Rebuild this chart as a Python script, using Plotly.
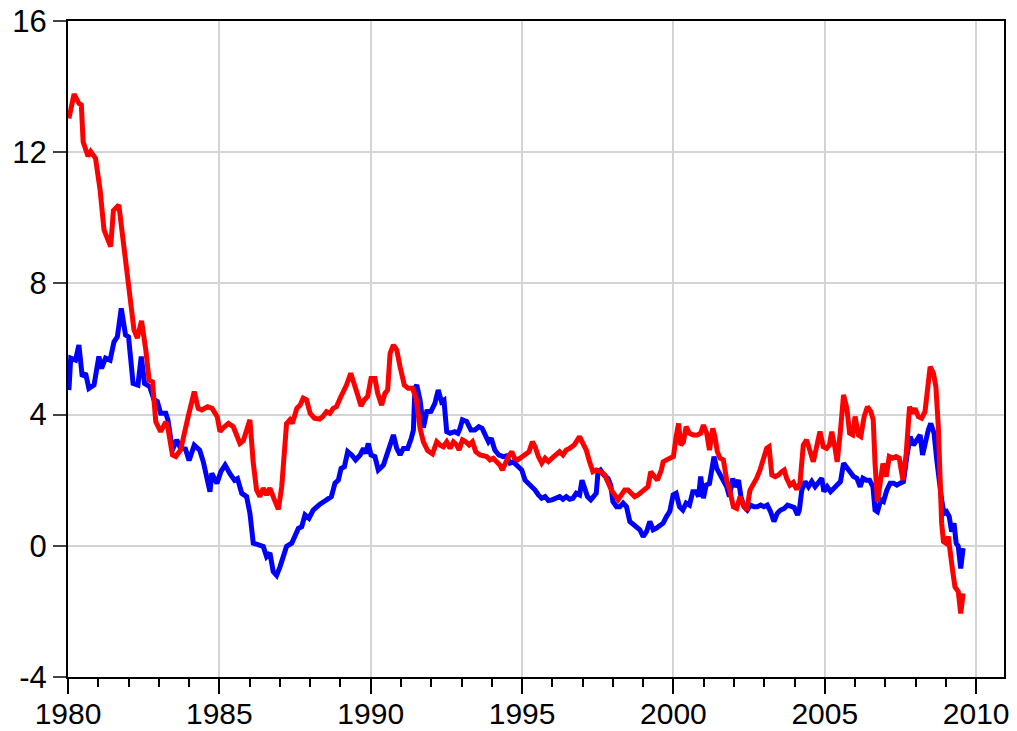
import plotly.graph_objects as go

# Time in years since 1980 and values
red_t = [0.03, 0.2, 0.36, 0.44, 0.5, 0.66, 0.75, 0.91, 1.06, 1.19, 1.41, 1.5, 1.68, 1.85, 2.02, 2.18, 2.29, 2.43,
         2.57, 2.68, 2.79, 2.9, 3.06, 3.23, 3.3, 3.45, 3.56, 3.72, 3.96, 4.17, 4.3, 4.42, 4.61, 4.76, 4.93, 5.02,
         5.13, 5.3, 5.46, 5.68, 5.79, 6.01, 6.12, 6.23, 6.34, 6.45, 6.56, 6.67, 6.82, 6.95, 7.06, 7.22, 7.33, 7.41,
         7.56, 7.67, 7.77, 7.88, 8.0, 8.14, 8.31, 8.42, 8.54, 8.65, 8.76, 8.87, 8.99, 9.1, 9.2, 9.34, 9.46, 9.57,
         9.68, 9.79, 9.9, 10.01, 10.14, 10.23, 10.36, 10.47, 10.56, 10.64, 10.75, 10.86, 10.97, 11.11, 11.24, 11.38,
         11.5, 11.63, 11.74, 11.88, 12.04, 12.18, 12.29, 12.4, 12.51, 12.62, 12.73, 12.84, 12.92, 13.03, 13.14,
         13.25, 13.36, 13.47, 13.61, 13.72, 13.83, 13.94, 14.05, 14.16, 14.27, 14.35, 14.44, 14.55, 14.66, 14.75,
         14.86, 14.99, 15.12, 15.23, 15.34, 15.43, 15.54, 15.65, 15.76, 15.87, 15.99, 16.1, 16.24, 16.35, 16.46,
         16.57, 16.72, 16.83, 16.9, 17.01, 17.12, 17.23, 17.34, 17.45, 17.59, 17.73, 17.84, 17.95, 18.06, 18.17,
         18.28, 18.39, 18.5, 18.61, 18.72, 18.83, 18.94, 19.05, 19.16, 19.25, 19.36, 19.47, 19.6, 19.66, 19.77,
         19.88, 20.0, 20.09, 20.17, 20.24, 20.33, 20.42, 20.53, 20.66, 20.79, 20.9, 20.99, 21.1, 21.19, 21.3,
         21.37, 21.45, 21.54, 21.65, 21.76, 21.87, 21.98, 22.09, 22.2, 22.31, 22.42, 22.53, 22.64, 22.75, 22.86,
         22.97, 23.08, 23.16, 23.25, 23.36, 23.47, 23.58, 23.66, 23.74, 23.85, 23.96, 24.07, 24.18, 24.29, 24.4,
         24.5, 24.62, 24.73, 24.84, 24.95, 25.06, 25.15, 25.23, 25.34, 25.41, 25.51, 25.62, 25.73, 25.82, 25.92,
         26.0, 26.11, 26.19, 26.3, 26.41, 26.52, 26.6, 26.66, 26.74, 26.83, 26.92, 27.03, 27.13, 27.24, 27.35,
         27.46, 27.58, 27.69, 27.8, 27.9, 27.98, 28.09, 28.2, 28.31, 28.39, 28.48, 28.59, 28.67, 28.75, 28.81,
         28.86, 28.92, 29.0, 29.08, 29.14, 29.22, 29.3, 29.41, 29.49, 29.57]
red_v = [13.03, 13.77, 13.49, 13.44, 12.32, 11.88, 12.02, 11.81, 10.85, 9.63, 9.12, 10.22, 10.39, 9.12, 8.05, 6.58,
         6.33, 6.86, 5.97, 5.05, 5.0, 3.78, 3.48, 3.78, 3.6, 2.77, 2.72, 2.92, 3.9, 4.7, 4.19, 4.14, 4.24, 4.19,
         3.94, 3.48, 3.6, 3.73, 3.63, 3.12, 3.2, 3.84, 2.52, 1.7, 1.5, 1.76, 1.55, 1.76, 1.4, 1.11, 1.8, 3.73, 3.84,
         3.73, 4.19, 4.29, 4.5, 4.45, 4.04, 3.89, 3.86, 3.94, 4.09, 4.04, 4.19, 4.24, 4.5, 4.7, 4.9, 5.26, 4.95,
         4.6, 4.26, 4.45, 4.55, 5.1, 5.1, 4.65, 4.29, 4.65, 4.75, 5.87, 6.12, 5.97, 5.46, 4.9, 4.8, 4.8, 4.5, 3.58,
         3.17, 2.9, 2.8, 3.17, 3.07, 3.02, 3.17, 2.97, 3.17, 3.07, 2.92, 3.23, 3.17, 3.07, 3.17, 2.87, 2.77, 2.74,
         2.72, 2.62, 2.67, 2.56, 2.46, 2.31, 2.51, 2.72, 2.87, 2.67, 2.62, 2.72, 2.82, 2.87, 3.17, 3.02, 2.72, 2.52,
         2.67, 2.57, 2.67, 2.77, 2.87, 2.77, 2.92, 2.97, 3.07, 3.23, 3.33, 3.12, 2.92, 2.56, 2.26, 2.31, 2.26, 2.16,
         1.9, 1.7, 1.55, 1.4, 1.55, 1.7, 1.7, 1.6, 1.5, 1.55, 1.62, 1.7, 1.8, 2.26, 2.11, 2.0, 2.31, 2.56, 2.62,
         2.67, 2.72, 3.33, 3.73, 3.07, 3.17, 3.63, 3.43, 3.38, 3.38, 3.43, 3.68, 3.43, 2.92, 3.58, 3.33, 2.87, 2.67,
         2.62, 2.0, 1.65, 1.19, 1.14, 1.5, 1.24, 1.09, 1.7, 1.85, 2.06, 2.31, 2.62, 2.97, 3.02, 2.16, 2.11, 2.16,
         2.26, 2.31, 2.06, 1.85, 1.93, 1.72, 1.9, 3.07, 3.23, 2.92, 2.56, 3.02, 3.48, 3.02, 2.97, 3.07, 3.48, 2.97,
         2.56, 3.43, 4.6, 4.19, 3.43, 3.38, 3.94, 3.38, 3.33, 3.94, 4.24, 4.09, 3.84, 2.51, 1.35, 1.91, 2.51, 2.11,
         2.72, 2.67, 2.72, 2.67, 2.0, 2.82, 4.24, 4.04, 4.19, 3.94, 3.89, 4.09, 4.85, 5.46, 5.26, 4.85, 3.63, 1.91,
         0.69, 0.13, 0.08, 0.28, -0.33, -0.74, -1.25, -1.4, -2.06, -1.45]

blue_t = [0.03, 0.09, 0.25, 0.36, 0.47, 0.58, 0.69, 0.86, 1.02, 1.11, 1.24, 1.39, 1.52, 1.63, 1.76, 1.9, 2.0, 2.15,
          2.31, 2.42, 2.53, 2.7, 2.84, 2.95, 3.06, 3.23, 3.3, 3.45, 3.59, 3.72, 3.88, 4.0, 4.17, 4.35, 4.47, 4.58,
          4.69, 4.75, 4.86, 4.92, 5.05, 5.19, 5.35, 5.5, 5.6, 5.74, 5.9, 6.01, 6.12, 6.28, 6.45, 6.56, 6.67, 6.78,
          6.89, 7.0, 7.11, 7.22, 7.39, 7.5, 7.61, 7.72, 7.83, 7.96, 8.1, 8.3, 8.54, 8.7, 8.82, 8.93, 9.02, 9.13,
          9.24, 9.37, 9.5, 9.65, 9.76, 9.84, 9.92, 10.01, 10.14, 10.25, 10.42, 10.56, 10.67, 10.75, 10.86, 10.97,
          11.08, 11.22, 11.34, 11.41, 11.46, 11.52, 11.63, 11.74, 11.85, 11.99, 12.12, 12.23, 12.34, 12.42, 12.51,
          12.62, 12.77, 12.88, 12.95, 13.03, 13.17, 13.31, 13.44, 13.57, 13.68, 13.8, 13.89, 13.98, 14.1, 14.23,
          14.37, 14.48, 14.6, 14.71, 14.87, 14.99, 15.1, 15.21, 15.32, 15.43, 15.54, 15.65, 15.76, 15.87, 15.99,
          16.13, 16.24, 16.35, 16.46, 16.57, 16.68, 16.79, 16.9, 16.98, 17.07, 17.16, 17.27, 17.38, 17.45, 17.51,
          17.59, 17.7, 17.84, 17.93, 18.0, 18.12, 18.23, 18.34, 18.45, 18.56, 18.67, 18.78, 18.89, 19.0, 19.11,
          19.22, 19.33, 19.44, 19.55, 19.66, 19.77, 19.88, 19.99, 20.09, 20.2, 20.31, 20.42, 20.53, 20.64, 20.75,
          20.83, 20.9, 20.99, 21.08, 21.19, 21.27, 21.34, 21.43, 21.54, 21.65, 21.76, 21.85, 21.96, 22.04, 22.15,
          22.23, 22.33, 22.44, 22.55, 22.66, 22.77, 22.88, 22.99, 23.1, 23.21, 23.32, 23.43, 23.54, 23.66, 23.77,
          23.88, 23.99, 24.1, 24.16, 24.24, 24.35, 24.46, 24.57, 24.68, 24.79, 24.9, 24.97, 25.08, 25.19, 25.3,
          25.41, 25.52, 25.62, 25.73, 25.84, 25.95, 26.06, 26.17, 26.26, 26.37, 26.48, 26.59, 26.66, 26.74, 26.85,
          26.94, 27.05, 27.16, 27.27, 27.38, 27.49, 27.6, 27.71, 27.82, 27.93, 28.04, 28.15, 28.23, 28.31, 28.42,
          28.5, 28.61, 28.7, 28.78, 28.86, 28.94, 29.02, 29.11, 29.19, 29.27, 29.34, 29.41, 29.49, 29.57]
blue_v = [4.75, 5.72, 5.66, 6.12, 5.16, 5.26, 4.8, 4.9, 5.77, 5.41, 5.72, 5.66, 6.22, 6.37, 7.24, 6.43, 6.37, 4.95,
          4.9, 5.77, 4.95, 4.85, 4.45, 4.4, 4.04, 4.04, 3.84, 2.92, 3.23, 2.97, 2.95, 2.6, 3.07, 2.92, 2.56, 2.0,
          1.65, 2.21, 2.0, 1.9, 2.26, 2.46, 2.2, 2.0, 2.05, 1.6, 1.5, 0.99, 0.08, 0.03, -0.02, -0.33, -0.22, -0.79,
          -0.9, -0.65, -0.33, -0.02, 0.08, 0.28, 0.53, 0.58, 0.94, 0.84, 1.09, 1.25, 1.4, 1.5, 1.91, 2.0, 2.36, 2.41,
          2.87, 2.77, 2.62, 2.77, 2.97, 2.82, 3.12, 2.77, 2.72, 2.31, 2.46, 2.82, 3.12, 3.38, 2.97, 2.77, 2.97, 2.97,
          3.28, 3.53, 4.8, 4.9, 4.44, 3.6, 4.09, 4.1, 4.34, 4.75, 4.39, 4.44, 3.48, 3.43, 3.48, 3.43, 3.58, 3.84,
          3.79, 3.53, 3.53, 3.63, 3.58, 3.33, 3.17, 3.28, 2.92, 2.77, 2.72, 2.74, 2.52, 2.56, 2.41, 2.31, 2.0, 1.9,
          1.85, 1.7, 1.55, 1.45, 1.5, 1.38, 1.4, 1.45, 1.5, 1.42, 1.5, 1.42, 1.45, 1.6, 1.55, 2.0, 1.75, 1.5, 1.4,
          1.55, 1.6, 2.26, 2.31, 2.16, 2.05, 1.85, 1.35, 1.19, 1.19, 1.3, 1.19, 0.74, 0.64, 0.59, 0.49, 0.28, 0.43,
          0.74, 0.49, 0.54, 0.64, 0.69, 0.89, 1.05, 1.55, 1.6, 1.19, 1.09, 1.3, 1.24, 1.65, 1.65, 1.5, 2.11, 1.45,
          1.85, 1.9, 2.36, 2.72, 2.36, 2.16, 2.0, 1.8, 1.5, 2.05, 1.8, 2.0, 1.5, 1.19, 1.09, 1.24, 1.19, 1.19, 1.24,
          1.19, 1.24, 1.04, 0.74, 0.99, 1.09, 1.14, 1.24, 1.2, 1.17, 0.94, 1.09, 1.7, 1.96, 1.8, 1.96, 1.8, 1.96,
          2.06, 1.65, 1.8, 1.65, 1.75, 1.85, 1.96, 2.52, 2.36, 2.21, 2.11, 2.06, 1.8, 2.06, 2.0, 2.0, 1.8, 1.09, 1.04,
          1.4, 1.35, 1.7, 1.91, 1.91, 1.85, 1.91, 1.96, 2.72, 3.33, 3.07, 3.23, 3.38, 2.77, 3.12, 3.53, 3.73, 3.43,
          2.61, 1.91, 1.4, 0.99, 1.04, 0.89, 0.43, 0.69, 0.08, -0.02, -0.69, -0.07]

START_YEAR = 1980
x_ticks = [1980, 1985, 1990, 1995, 2000, 2005, 2010]
y_ticks = [-4, 0, 4, 8, 12, 16]

red_x = [START_YEAR + t for t in red_t]
blue_x = [START_YEAR + t for t in blue_t]

fig = go.Figure()
fig.add_trace(go.Scatter(x=blue_x, y=blue_v, mode="lines",
                         line=dict(color="#0000FF", width=5), showlegend=False))
fig.add_trace(go.Scatter(x=red_x, y=red_v, mode="lines",
                         line=dict(color="#FF0000", width=5), showlegend=False))

y_font = dict(family="Liberation Sans, Arial, sans-serif", size=31, color="black")
x_font = dict(family="Liberation Sans, Arial, sans-serif", size=30, color="black")

# The page body has an 8px default margin, so the figure is sized to leave room for it.
fig.update_layout(
    width=1009, height=723,
    margin=dict(l=60, r=13, t=13, b=54, autoexpand=False),
    paper_bgcolor="white", plot_bgcolor="white",
    font=y_font,
)
fig.update_xaxes(
    range=[1980, 2010.92], tickvals=x_ticks, ticktext=[str(v) for v in x_ticks],
    tickfont=x_font, automargin=False, ticklabeloverflow="allow", ticklabelstandoff=-6,
    showgrid=True, gridcolor="#D4D4D4", gridwidth=1.5,
    showline=True, linecolor="black", linewidth=2, mirror=True,
    ticks="outside", ticklen=15, tickwidth=1.5, tickcolor="black",
    minor=dict(dtick=1, tick0=1980, ticks="outside", ticklen=8, tickwidth=1.5,
               tickcolor="black", showgrid=False),
    zeroline=False,
)
fig.update_yaxes(
    range=[-4, 16], tickvals=y_ticks, ticktext=[str(v) for v in y_ticks],
    tickfont=y_font, automargin=False, ticklabeloverflow="allow",
    showgrid=True, gridcolor="#D4D4D4", gridwidth=1.5,
    showline=True, linecolor="black", linewidth=2, mirror=True,
    ticks="outside", ticklen=13, tickwidth=1.5, tickcolor="#444444",
    zeroline=False,
)

fig.write_html("out.html")
